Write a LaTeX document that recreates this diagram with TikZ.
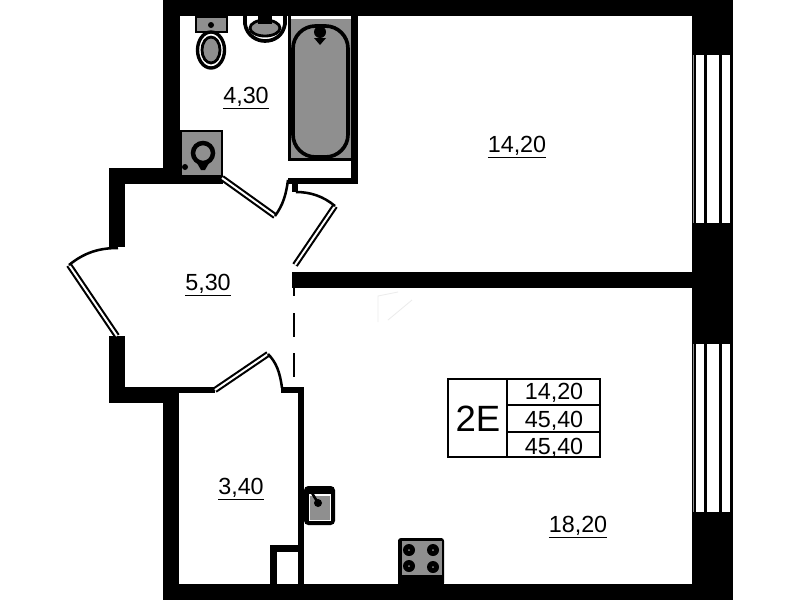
\documentclass[tikz,border=0pt]{standalone}
\usepackage{fontspec}
\setmainfont{Liberation Sans}
\definecolor{fixture}{gray}{0.56}
\tikzstyle{wall} = [fill=black, draw=none]
\tikzstyle{leaf} = [draw=black, line width=1.5pt, double=white, double distance=1.4pt, line cap=butt]
\tikzstyle{swing} = [draw=black, line width=1.8pt]
\tikzstyle{unit} = [fill=fixture, draw=black, line width=1.6pt]
\tikzstyle{glass} = [fill=white, draw=none]
\tikzstyle{area} = [font=\fontsize{16.6}{16.6}\selectfont, inner sep=0pt]
\begin{document}
\begin{tikzpicture}[x=0.025cm, y=-0.025cm]
	\useasboundingbox (0,0) rectangle (799,600);
	\fill[white] (0,0) rectangle (799,600);

	%outer walls
	\fill[wall] (163,0) rectangle (733,16);
	\fill[wall] (692,0) rectangle (733,600);
	\fill[wall] (163,584) rectangle (733,600);
	\fill[wall] (163,0) rectangle (180,183);
	\fill[wall] (109,168) rectangle (223,184);
	\fill[wall] (109,168) rectangle (125,247);
	\fill[wall] (109,336) rectangle (125,403);
	\fill[wall] (109,387) rectangle (179,403);
	\fill[wall] (163,387) rectangle (179,600);
	\fill[wall] (179,387) rectangle (215,393);

	%inner walls
	\fill[wall] (292,272) rectangle (692,288);
	\fill[wall] (351,16) rectangle (358,184);
	\fill[wall] (288,178) rectangle (358,184);
	\fill[wall] (292,184) rectangle (298,192);
	\fill[wall] (281,387) rectangle (304,393);
	\fill[wall] (298,387) rectangle (304,584);
	\fill[wall] (270,545) rectangle (304,552);
	\fill[wall] (270,545) rectangle (277,584);

	%windows
	\foreach \y in {55,344}{
		\fill[fixture] (692.5,\y) rectangle (693.5,\y+168);
		\fill[glass] (696,\y) rectangle (704,\y+168);
		\fill[glass] (707,\y) rectangle (719,\y+168);
		\fill[glass] (722,\y) rectangle (730,\y+168);
	}

	%doors
	\draw[leaf] (69,265) -- (117,336);
	\draw[swing] (69,265) .. controls (85,252) and (100,248) .. (118,248);
	\draw[leaf] (222,178) -- (275,216);
	\draw[swing] (275,216) .. controls (283,205) and (286,195) .. (288,180);
	\draw[leaf] (295,265) -- (335,206);
	\draw[swing] (335,206) .. controls (323,196) and (310,192) .. (296,192);
	\draw[leaf] (215,390) -- (268,354);
	\draw[swing] (268,354) .. controls (276,362) and (280,372) .. (282,388);

	%open passage
	\foreach \a/\b in {288/296,313/337,353/377}
		\draw[line width=1.8pt] (294,\a) -- (294,\b);

	%faint mark
	\draw[gray!15, line width=0.6pt] (378,322) -- (378,296) -- (398,292) (388,320) -- (412,300);

	%bath
	\fill[wall] (288,16) rectangle (291,161);
	\fill[wall] (288,158) rectangle (351,161);
	\fill[fixture] (291,19) rectangle (351,158);
	\draw[unit, line width=2.6pt, rounded corners=16pt] (293,26) rectangle (348,157);
	\fill[black] (320,32) circle (6);
	\fill[black] (314,38) -- (326,38) -- (320,45) -- cycle;

	%toilet
	\draw[unit] (196,17) rectangle (227,32);
	\fill[black] (211,25) circle (3);
	\draw[fill=white, draw=black, line width=2.4pt] (211,50) ellipse (13.5 and 18);
	\draw[unit, line width=2pt] (211,50) ellipse (9 and 13);

	%basin
	\draw[fill=white, draw=black, line width=2.6pt] (245,16) -- (245,24) .. controls (247,36) and (257,41) .. (265,41) .. controls (274,41) and (283,36) .. (285,24) -- (285,16);
	\draw[unit, line width=2pt] (265,28) ellipse (15 and 8);
	\fill[black] (258,16) rectangle (272,24);

	%boiler
	\draw[unit] (181,131) rectangle (222,176);
	\fill[black] (180,131) rectangle (182,176);
	\draw[fill=fixture, draw=black, line width=3.2pt] (203,153) circle (10);
	\fill[black] (197,163) -- (209,163) -- (205,170) -- (201,170) -- cycle;
	\fill[black] (185,167) circle (3);

	%kitchen sink
	\fill[black, rounded corners=3pt] (304,486) rectangle (335,525);
	\fill[white] (309,494) rectangle (331,521);
	\fill[fixture] (310,496) rectangle (330,520);
	\fill[black] (318,503) circle (4);
	\draw[black, line width=1.8pt] (312,493) -- (318,503);

	%stove
	\fill[black, rounded corners=2pt] (398,538) rectangle (444,586);
	\fill[fixture] (402,541) rectangle (442,575);
	\foreach \cx/\cy in {409/550,433/550,409/566,433/567}{
		\fill[black] (\cx,\cy) circle (6);
		\fill[fixture] (\cx,\cy) circle (1);
	}

	%flat table
	\draw[line width=1.8pt] (448,379) rectangle (600,457);
	\draw[line width=1.8pt] (507,379) -- (507,457);
	\draw[line width=1.8pt] (507,405) -- (600,405);
	\draw[line width=1.8pt] (507,432) -- (600,432);
	\node (flat) [inner sep=0pt, font=\fontsize{26}{26}\selectfont] at (478,419) {2E};
	\node (rowa) [area] at (554,393) {14,20};
	\node (rowb) [area] at (554,421) {45,40};
	\node (rowc) [area] at (554,448) {45,40};

	%room areas
	\node (bath) [area] at (246,98) {\underline{4,30}};
	\node (bedroom) [area] at (517,147) {\underline{14,20}};
	\node (hall) [area] at (208,285) {\underline{5,30}};
	\node (store) [area] at (241,489) {\underline{3,40}};
	\node (kitchen) [area] at (578,527) {\underline{18,20}};
\end{tikzpicture}
\end{document}
